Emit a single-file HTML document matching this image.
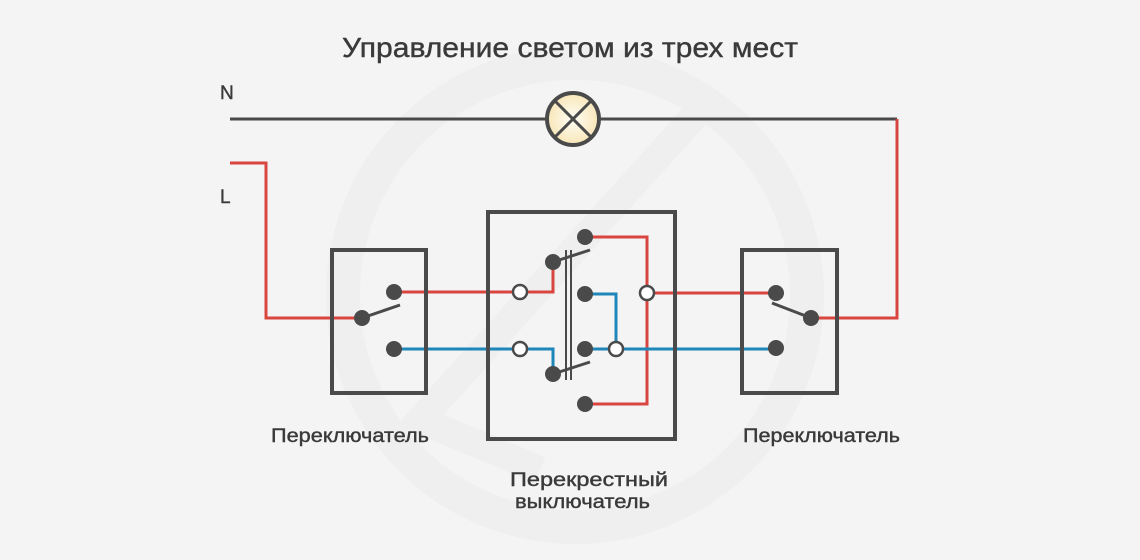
<!DOCTYPE html>
<html><head><meta charset="utf-8"><style>
html,body{margin:0;padding:0;background:#f4f4f4;}
svg{display:block;}
text{font-family:"Liberation Sans",sans-serif;fill:#3a3a3a;stroke:#3a3a3a;stroke-width:0.4;}
</style></head><body>
<svg width="1140" height="560" viewBox="0 0 1140 560" xmlns="http://www.w3.org/2000/svg">
<defs>
<radialGradient id="lg" cx="50%" cy="50%" r="50%">
<stop offset="0%" stop-color="#fffdf5"/><stop offset="100%" stop-color="#f8e6b8"/>
</radialGradient>
</defs>
<rect width="1140" height="560" fill="#f4f4f4"/>
<circle cx="575" cy="295" r="232" fill="none" stroke="#efefef" stroke-width="34"/>
<path d="M700 110 L420 420 L540 470" fill="none" stroke="#efefef" stroke-width="28"/>
<text x="570" y="57" font-size="28" text-anchor="middle" textLength="456" lengthAdjust="spacingAndGlyphs">Управление светом из трех мест</text>
<text x="220" y="99" font-size="19">N</text>
<text x="220" y="203" font-size="19">L</text>
<g fill="none" stroke-width="3">
<path d="M230 119 H897" stroke="#4a4a4a"/>
<path d="M897 119 V318 H811" stroke="#d9453f"/>
<path d="M230 163 H266 V318 H362" stroke="#d9453f"/>
<path d="M394 292 H520 M520 292 H553 V262" stroke="#d9453f"/>
<path d="M585 237 H647 V404 H585" stroke="#d9453f"/>
<path d="M647 293 H776" stroke="#d9453f"/>
<path d="M394 349 H520 M520 349 H553 V374" stroke="#1e86b8"/>
<path d="M585 294 H616 V349" stroke="#1e86b8"/>
<path d="M585 349 H776" stroke="#1e86b8"/>
</g>
<g fill="none" stroke="#4a4a4a" stroke-width="4">
<rect x="332" y="250" width="94" height="143"/>
<rect x="488" y="212" width="187" height="227"/>
<rect x="742" y="250" width="95" height="143"/>
</g>
<g stroke="#4a4a4a" stroke-width="3">
<line x1="362" y1="318" x2="400" y2="305"/>
<line x1="553" y1="262" x2="590" y2="250"/>
<line x1="553" y1="374" x2="590" y2="362"/>
<line x1="772" y1="303" x2="811" y2="318"/>
<line x1="566" y1="250" x2="566" y2="380" stroke-width="2"/>
<line x1="571" y1="250" x2="571" y2="380" stroke-width="2"/>
</g>
<g fill="#4a4a4a">
<circle cx="394" cy="292" r="8"/><circle cx="394" cy="349" r="8"/><circle cx="362" cy="318" r="8"/>
<circle cx="553" cy="262" r="8"/><circle cx="553" cy="374" r="8"/>
<circle cx="585" cy="237" r="8"/><circle cx="585" cy="294" r="8"/><circle cx="585" cy="349" r="8"/><circle cx="585" cy="404" r="8"/>
<circle cx="776" cy="293" r="8"/><circle cx="811" cy="318" r="8"/><circle cx="776" cy="348" r="8"/>
</g>
<g fill="#fff" stroke="#4a4a4a" stroke-width="2.5">
<circle cx="520" cy="292" r="7"/><circle cx="520" cy="349" r="7"/>
<circle cx="647" cy="293" r="7"/><circle cx="616" cy="349" r="7"/>
</g>
<circle cx="573" cy="119" r="26" fill="url(#lg)" stroke="#4a4a4a" stroke-width="4"/>
<g stroke="#4a4a4a" stroke-width="3">
<line x1="555" y1="101" x2="591" y2="137"/><line x1="591" y1="101" x2="555" y2="137"/>
</g>
<text x="271" y="442" font-size="19" textLength="158" lengthAdjust="spacingAndGlyphs">Переключатель</text>
<text x="743" y="442" font-size="19" textLength="157" lengthAdjust="spacingAndGlyphs">Переключатель</text>
<text x="510" y="486" font-size="19" textLength="158" lengthAdjust="spacingAndGlyphs">Перекрестный</text>
<text x="515" y="508" font-size="19" textLength="135" lengthAdjust="spacingAndGlyphs">выключатель</text>
</svg>
</body></html>
